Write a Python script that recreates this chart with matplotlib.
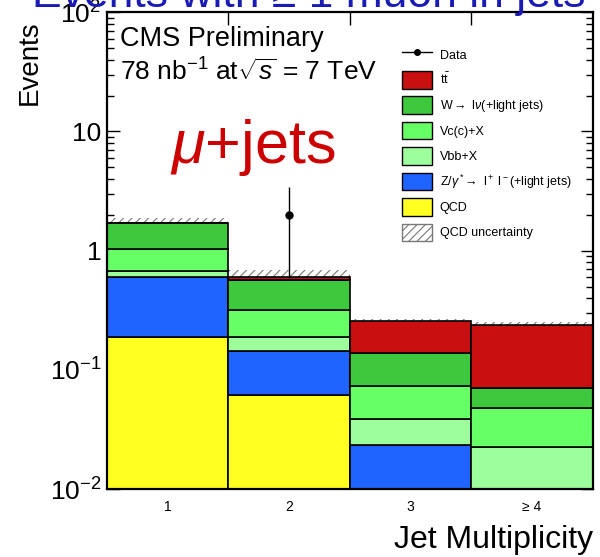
import matplotlib
matplotlib.use("Agg")
import matplotlib.pyplot as plt
from matplotlib.lines import Line2D
from matplotlib.patches import Patch
import numpy as np

plt.rcParams['font.family'] = ['Liberation Sans', 'DejaVu Sans']
plt.rcParams['mathtext.fontset'] = 'custom'
plt.rcParams['mathtext.rm'] = 'Liberation Sans'
plt.rcParams['mathtext.it'] = 'Liberation Sans:italic'
plt.rcParams['mathtext.bf'] = 'Liberation Sans:bold'
plt.rcParams['hatch.linewidth'] = 0.8

# Jet multiplicity bins
bins = [1, 2, 3, 4]
bin_labels = ["1", "2", "3", "≥ 4"]

# Stacked MC expectations (bottom -> top)
qcd = [0.187, 0.062, 0.0, 0.0]
zjets = [0.411, 0.083, 0.0235, 0.0]
vbb = [0.074, 0.042, 0.0153, 0.0226]
vcc = [0.358, 0.128, 0.035, 0.0255]
wjets = [0.675, 0.250, 0.066, 0.023]
ttbar = [0.0, 0.033, 0.115, 0.169]
qcd_unc = [0.17, 0.085, 0.01, 0.01]

# Data
data = [0, 2, 0, 0]

y_ticks = [1e-2, 1e-1, 1, 10, 1e2]
y_ticklabels = [r"$10^{-2}$", r"$10^{-1}$", "1", "10", r"$10^{2}$"]

samples = [
    (qcd, "#ffff22", "QCD"),
    (zjets, "#1f64ff", r"Z/$\gamma^*\!\rightarrow$ l$^+$ l$^-$(+light jets)"),
    (vbb, "#9cff9c", "Vbb+X"),
    (vcc, "#66ff66", "Vc(c)+X"),
    (wjets, "#3ec83e", r"W$\rightarrow$ l$\nu$(+light jets)"),
    (ttbar, "#c81010", r"t$\bar{\mathrm{t}}$"),
]

fig = plt.figure(figsize=(6, 5.57), dpi=100)
ax = fig.add_axes([0.178, 0.122, 0.81, 0.856])
ax.set_yscale("log", nonpositive="clip")

x = np.array(bins, dtype=float)
total = np.zeros(len(bins))
for vals in [s[0] for s in samples]:
    total += np.array(vals)

# QCD uncertainty band around the total
unc = np.array(qcd_unc)
ax.bar(x, 2 * unc, bottom=total - unc, width=1.0, facecolor="none",
       edgecolor="#777777", hatch="////", linewidth=0, zorder=1)

handles = {}
bottom = np.zeros(len(bins))
for vals, color, label in samples:
    vals = np.array(vals)
    ax.bar(x, vals, bottom=bottom, width=1.0, color=color,
           edgecolor="black", linewidth=1.2, zorder=2)
    handles[label] = Patch(facecolor=color, edgecolor="black", linewidth=1.0)
    bottom += vals

d = np.array(data, dtype=float)
m = d > 0
ax.errorbar(x[m], d[m], yerr=np.sqrt(d[m]), fmt="o", color="black",
            markersize=5, elinewidth=1.0, capsize=0, zorder=5)

ax.set_xlim(0.5, 4.5)
ax.set_ylim(1e-2, 1e2)

# axis ticks, ROOT style
ax.set_xticks([1.5, 2.5, 3.5])
ax.set_xticklabels(["", "", ""])
ax.set_xticks(x, bin_labels, minor=True)
ax.tick_params(axis="x", which="major", direction="in", length=9, width=1,
               top=True, bottom=True)
ax.tick_params(axis="x", which="minor", length=0, pad=8, labelsize=10)
ax.set_yticks(y_ticks)
ax.set_yticklabels(y_ticklabels)
ax.tick_params(axis="y", which="major", direction="in", length=9, width=1,
               left=True, right=True, labelsize=19, pad=4)
ax.tick_params(axis="y", which="minor", direction="in", length=5, width=1,
               left=True, right=True)
for sp in ax.spines.values():
    sp.set_linewidth(1.6)

ax.set_ylabel("Events", fontsize=20, loc="top")
ax.yaxis.set_label_coords(-0.132, 0.983)
ax.set_xlabel("Jet Multiplicity", fontsize=23, loc="right")
ax.xaxis.set_label_coords(1.0, -0.075)

ax.text(0.028, 0.944, "CMS Preliminary", transform=ax.transAxes,
        fontsize=19.5, va="center", ha="left")
ax.text(0.028, 0.874, r"78 nb$^{-1}$ at$\sqrt{s}$ = 7 TeV",
        transform=ax.transAxes, fontsize=19, va="center", ha="left")
ax.text(0.3, 0.683, r"$\mu$+jets", transform=ax.transAxes, fontsize=44,
        color="#cc0000", ha="center", va="baseline")

fig.text(0.053, 0.988, "Events with ≥ 1 muon in jets", color="#1a1ab4",
         fontsize=32, va="baseline", ha="left")

data_handle = Line2D([], [], color="black", marker="o", markersize=4,
                     linewidth=1.0)
unc_handle = Patch(facecolor="white", edgecolor="#777777", hatch="////",
                   linewidth=1.0)
leg_handles = [data_handle] + [handles[s[2]] for s in samples[::-1]] + [unc_handle]
leg_labels = ["Data"] + [s[2] for s in samples[::-1]] + ["QCD uncertainty"]
ax.legend(leg_handles, leg_labels, loc="upper left",
          bbox_to_anchor=(0.608, 0.93), frameon=False, fontsize=9,
          handlelength=2.4, handleheight=1.8, labelspacing=0.61,
          handletextpad=0.6, borderpad=0, borderaxespad=0)

fig.savefig("out.png", dpi=100)
